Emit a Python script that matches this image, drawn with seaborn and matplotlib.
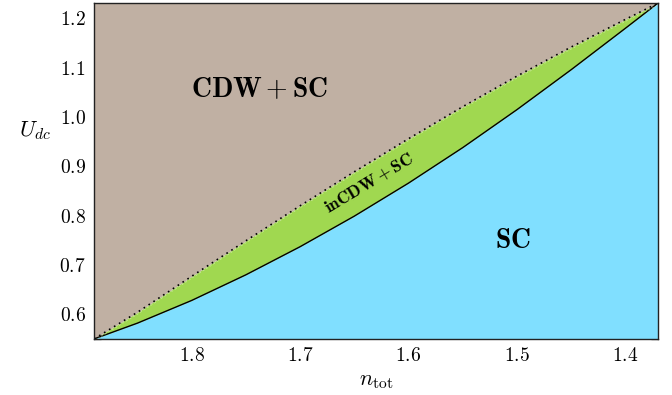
import matplotlib
matplotlib.use("Agg")
import matplotlib.pyplot as plt
import matplotlib.transforms as mtransforms
from matplotlib.ticker import MultipleLocator, FuncFormatter
import seaborn as sns
import pandas as pd

# phase boundaries
n_tot = [1.89, 1.85, 1.80, 1.75, 1.70, 1.65, 1.60, 1.55, 1.50, 1.45, 1.40, 1.37]
u_cdw = [0.550, 0.604, 0.677, 0.749, 0.820, 0.889, 0.956, 1.021, 1.083, 1.142, 1.198, 1.231]  # dotted
u_sc = [0.550, 0.582, 0.628, 0.680, 0.737, 0.799, 0.866, 0.938, 1.015, 1.096, 1.180, 1.231]   # solid

xlim = (1.89, 1.37)
ylim = (0.55, 1.231)

col_brown = "#c0b0a3"
col_green = "#a0d850"
col_blue = "#80dfff"

df = pd.DataFrame({"n": n_tot, "ucdw": u_cdw, "usc": u_sc})

sns.set_style("ticks")
plt.rcParams["mathtext.fontset"] = "cm"
plt.rcParams["font.family"] = ["DejaVu Serif"]
plt.rcParams["text.color"] = "black"
plt.rcParams["axes.labelcolor"] = "black"
plt.rcParams["xtick.labelcolor"] = "black"
plt.rcParams["ytick.labelcolor"] = "black"

fig = plt.figure(figsize=(6.72, 3.95), dpi=100)
ax = fig.add_axes([0.140, 0.142, 0.839, 0.850])

ax.fill_between(df["n"], ylim[0], df["usc"], color=col_blue, lw=0)
ax.fill_between(df["n"], df["usc"], df["ucdw"], color=col_green, lw=0)
ax.fill_between(df["n"], df["ucdw"], ylim[1], color=col_brown, lw=0)

sns.lineplot(data=df, x="n", y="usc", ax=ax, color="black", lw=1.0, sort=False)
# faint light trace just under the dotted boundary
shift_dn = ax.transData + mtransforms.ScaledTranslation(0, -2 / 100, fig.dpi_scale_trans)
ax.plot(df["n"], df["ucdw"], color="white", lw=0.5, alpha=0.45, ls=(0, (3, 3)), transform=shift_dn)
sns.lineplot(data=df, x="n", y="ucdw", ax=ax, color="black", lw=1.2,
             linestyle=(0, (1, 2.5)), sort=False)

ax.set_xlim(*xlim)
ax.set_ylim(*ylim)

ax.xaxis.set_major_locator(MultipleLocator(0.1))
ax.xaxis.set_minor_locator(MultipleLocator(0.05))
ax.yaxis.set_major_locator(MultipleLocator(0.1))
ax.yaxis.set_minor_locator(MultipleLocator(0.05))
fmt = FuncFormatter(lambda v, p: r"$%.1f$" % v)
ax.xaxis.set_major_formatter(fmt)
ax.yaxis.set_major_formatter(fmt)
ax.tick_params(which="both", direction="in", top=True, right=True, length=5,
               width=0.9, color="#222222", labelsize=14, pad=6)

for s in ax.spines.values():
    s.set_linewidth(1.0)
    s.set_color("#222222")
    s.set_zorder(5)

ax.set_xlabel(r"$n_{\rm tot}$", fontsize=16, labelpad=3)
ax.set_ylabel(r"$U_{dc}$", fontsize=16, rotation=0, va="center")
ax.yaxis.set_label_coords(-0.105, 0.62)

ax.text(1.737, 1.055, r"$\mathbf{CDW+SC}$", fontsize=20, ha="center", va="center")
ax.text(1.5036, 0.75, r"$\mathbf{SC}$", fontsize=20, ha="center", va="center")
ax.text(1.636, 0.866, r"$\mathbf{inCDW+SC}$", fontsize=12.5, ha="center", va="center",
        rotation=31, rotation_mode="anchor")

fig.savefig("out.png", dpi=100)
